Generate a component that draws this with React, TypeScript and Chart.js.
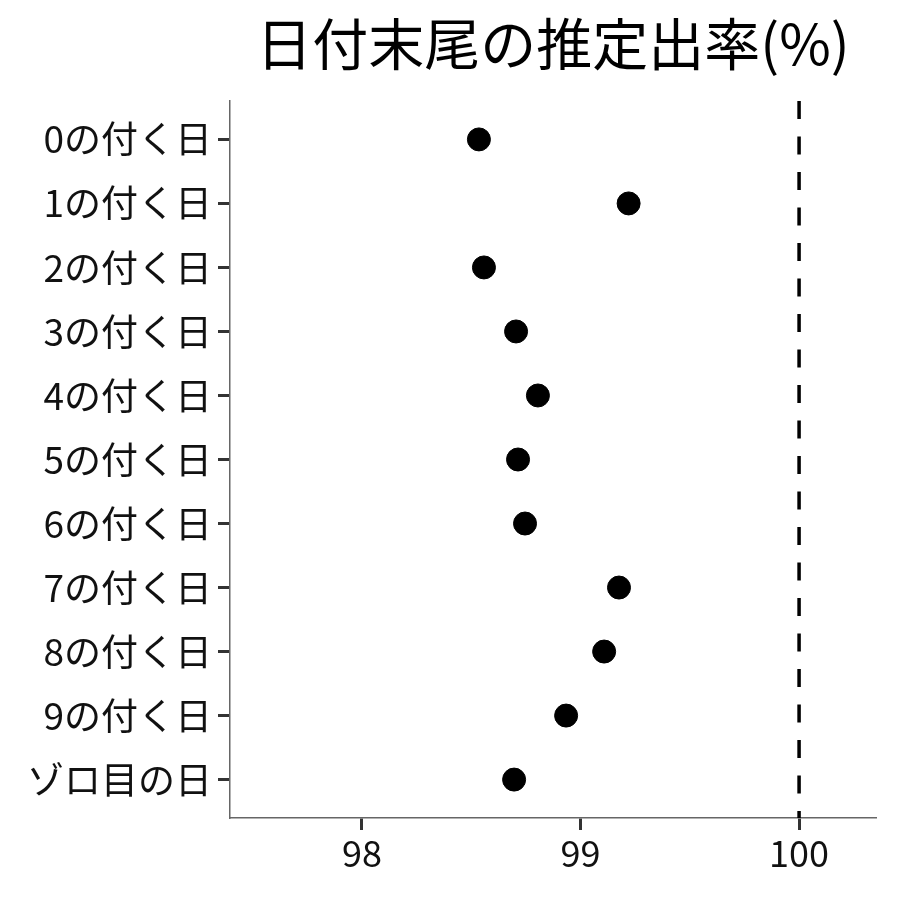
import React, { useEffect, useRef } from "react";
import { Chart, registerables } from "chart.js";

Chart.register(...registerables);

const TITLE = "日付末尾の推定出率(%)";
const CATEGORIES = ["0の付く日", "1の付く日", "2の付く日", "3の付く日", "4の付く日", "5の付く日", "6の付く日", "7の付く日", "8の付く日", "9の付く日", "ゾロ目の日"];
const RATES = [98.535, 99.22, 98.558, 98.705, 98.805, 98.714, 98.746, 99.176, 99.108, 98.934, 98.696];
const X_TICKS = [98, 99, 100];
const REF_VALUE = 100;
const X_MIN = 97.396;
const X_MAX = 100.352;

const FONT = "'Noto Sans CJK JP', 'Noto Sans', sans-serif";

export default function App() {
  const ref = useRef<HTMLCanvasElement | null>(null);
  useEffect(() => {
    if (!ref.current) return;
    const n = CATEGORIES.length;
    const titlePlugin = {
      id: "titleText",
      afterDraw(chart: any) {
        const ctx = chart.ctx;
        const a = chart.chartArea;
        ctx.save();
        ctx.fillStyle = "#000";
        ctx.font = `56px ${FONT}`;
        ctx.textAlign = "center";
        ctx.textBaseline = "middle";
        ctx.fillText(TITLE, (a.left + a.right) / 2, 44);
        ctx.restore();
      },
    };
    const chart = new Chart(ref.current, {
      type: "scatter",
      data: {
        datasets: [
          {
            type: "line",
            data: [
              { x: REF_VALUE, y: -0.6 },
              { x: REF_VALUE, y: n - 1 + 0.6 },
            ],
            borderColor: "#000",
            borderWidth: 3.5,
            borderDash: [18, 17.5],
            pointRadius: 0,
            fill: false,
          } as any,
          {
            data: RATES.map((v, i) => ({ x: v, y: i })),
            backgroundColor: "#000",
            borderColor: "#000",
            pointRadius: 11.5,
            pointHoverRadius: 11.5,
          },
        ],
      },
      plugins: [titlePlugin],
      options: {
        animation: false,
        responsive: false,
        maintainAspectRatio: false,
        layout: { padding: { top: 101, right: 24, left: 0, bottom: 0 } },
        plugins: { legend: { display: false }, tooltip: { enabled: false }, title: { display: false } },
        scales: {
          x: {
            type: "linear",
            min: X_MIN,
            max: X_MAX,
            afterBuildTicks: (s: any) => {
              s.ticks = X_TICKS.map((v) => ({ value: v }));
            },
            afterFit: (s: any) => {
              s.height = 82;
            },
            grid: { drawOnChartArea: false, drawTicks: true, tickLength: 12, tickColor: "#333", tickWidth: 3 },
            border: { display: true, color: "#666", width: 1.5 },
            ticks: { color: "#111", font: { family: FONT, size: 36 }, padding: 2 },
          },
          y: {
            type: "linear",
            reverse: true,
            min: -0.6,
            max: n - 1 + 0.6,
            afterBuildTicks: (s: any) => {
              s.ticks = CATEGORIES.map((_, i) => ({ value: i }));
            },
            afterFit: (s: any) => {
              s.width = 230;
            },
            grid: { drawOnChartArea: false, drawTicks: true, tickLength: 12, tickColor: "#333", tickWidth: 3 },
            border: { display: true, color: "#666", width: 1.5 },
            ticks: {
              color: "#111",
              font: { family: FONT, size: 37 },
              padding: 6,
              callback: (v: any) => CATEGORIES[Math.round(Number(v))] ?? "",
            },
          },
        },
      } as any,
    });
    return () => chart.destroy();
  }, []);
  return (
    <div style={{ position: "fixed", left: 0, top: 0, width: 900, height: 900, background: "#fff" }}>
      <canvas ref={ref} width={900} height={900} style={{ width: 900, height: 900 }} />
    </div>
  );
}
